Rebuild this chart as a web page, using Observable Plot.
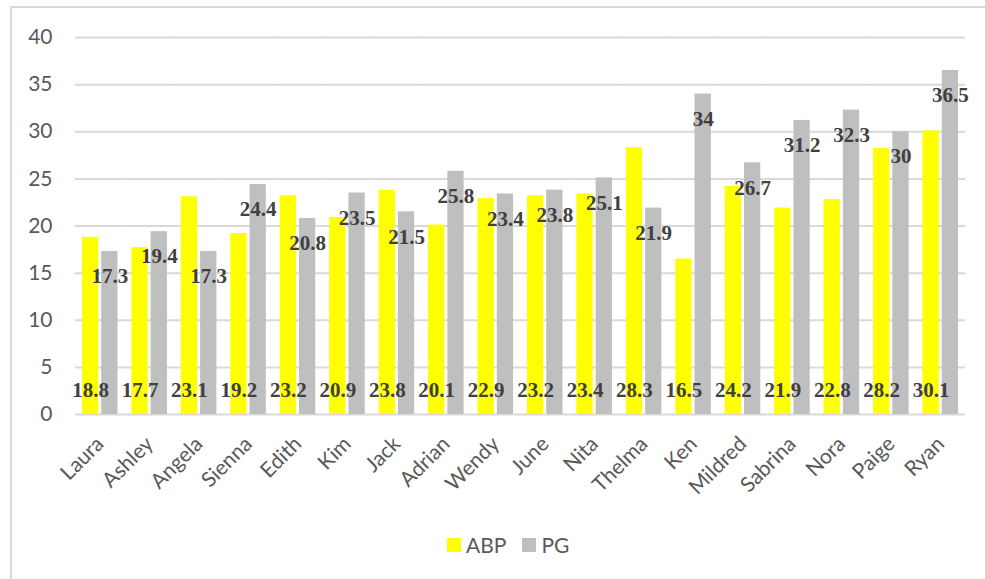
<!DOCTYPE html>
<html>
<head>
<meta charset="utf-8">
<script src="https://cdn.jsdelivr.net/npm/d3@7"></script>
<script src="https://cdn.jsdelivr.net/npm/@observablehq/plot@0.6"></script>
<style>
  html, body { margin: 0; padding: 0; background: #fff; }
  #wrap { position: relative; width: 985px; height: 579px; overflow: hidden; }
  #frame { position: absolute; left: 10px; top: 6px; width: 1000px; height: 600px; border: 2px solid #d9d9d9; box-sizing: border-box; }
  #chart { position: absolute; left: 0; top: 0; }
  #legend { position: absolute; top: 532px; left: 447px; font-family: Lato, "Open Sans", sans-serif; font-size: 21px; color: #595959; display: flex; align-items: center; }
  .sw { display: inline-block; width: 14px; height: 14px; margin-right: 5px; }
  .item { display: flex; align-items: center; margin-right: 16px; }
</style>
</head>
<body>
<div id="wrap">
  <div id="frame"></div>
  <div id="chart"></div>
  <div id="legend"></div>
</div>
<script>
const names = ["Laura","Ashley","Angela","Sienna","Edith","Kim","Jack","Adrian","Wendy","June","Nita","Thelma","Ken","Mildred","Sabrina","Nora","Paige","Ryan"];
const abp = [18.8,17.7,23.1,19.2,23.2,20.9,23.8,20.1,22.9,23.2,23.4,28.3,16.5,24.2,21.9,22.8,28.2,30.1];
const pg  = [17.3,19.4,17.3,24.4,20.8,23.5,21.5,25.8,23.4,23.8,25.1,21.9,34,26.7,31.2,32.3,30,36.5];
const seriesNames = ["ABP","PG"];
const seriesColors = ["#ffff00","#bfbfbf"];
const yTicks = [0,5,10,15,20,25,30,35,40];

const rows = [];
names.forEach((n,i) => {
  rows.push({name:n, series:"ABP", value:abp[i]});
  rows.push({name:n, series:"PG", value:pg[i]});
});
const abpRows = rows.filter(d => d.series === "ABP");
const pgRows = rows.filter(d => d.series === "PG");

const labelFont = {fontFamily: '"Liberation Serif", "Times New Roman", serif', fontWeight: "bold", fontSize: 21, fill: "#404040"};

const chart = Plot.plot({
  width: 985,
  height: 579,
  marginLeft: 75,
  marginRight: 20,
  marginTop: 37,
  marginBottom: 165,
  style: {fontFamily: 'Lato, "Open Sans", sans-serif', fontSize: "21px", color: "#595959", background: "transparent"},
  fx: {domain: names, padding: 0, round: false, label: null},
  x: {domain: seriesNames, paddingInner: 0.155, paddingOuter: 0.36, round: false, axis: null},
  y: {domain: [0, 40], ticks: yTicks, label: null},
  color: {domain: seriesNames, range: seriesColors},
  marks: [
    Plot.ruleY(yTicks, {stroke: "#d9d9d9", strokeWidth: 2}),
    Plot.axisY({ticks: yTicks, tickSize: 0, tickPadding: 23, label: null, fill: "#595959", fontSize: 21}),
    Plot.axisFx({anchor: "bottom", tickSize: 0, tickRotate: -45, tickPadding: 26, label: null, fill: "#595959", fontSize: 21}),
    Plot.barY(rows, {fx: "name", x: "series", y: "value", fill: "series"}),
    Plot.text(abpRows, {fx: "name", x: "series", y: () => 0, text: d => String(d.value), dy: -24, ...labelFont}),
    Plot.text(pgRows, {fx: "name", x: "series", y: "value", text: d => String(d.value), dy: 25, ...labelFont})
  ]
});
document.getElementById("chart").appendChild(chart);

const legend = document.getElementById("legend");
seriesNames.forEach((s, i) => {
  const item = document.createElement("div");
  item.className = "item";
  const sw = document.createElement("span");
  sw.className = "sw";
  sw.style.background = seriesColors[i];
  const t = document.createElement("span");
  t.textContent = s;
  item.appendChild(sw);
  item.appendChild(t);
  legend.appendChild(item);
});
</script>
</body>
</html>
